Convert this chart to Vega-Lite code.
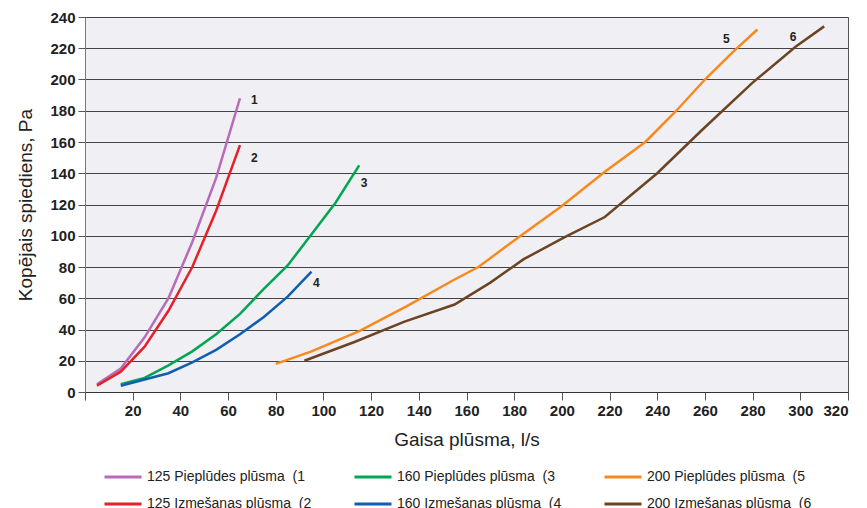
{
  "$schema": "https://vega.github.io/schema/vega-lite/v6.json",
  "width": 763,
  "height": 375,
  "autosize": {"type": "none"},
  "padding": {"left": 85, "top": 17, "right": 19, "bottom": 116},
  "background": "white",
  "config": {
    "view": {"fill": "#f0eff3", "stroke": "#555", "strokeWidth": 1},
    "font": "Liberation Sans"
  },
  "datasets": {
    "curves": [
      {"series": "125 Pieplūdes plūsma  (1", "x": 5, "y": 5},
      {"series": "125 Pieplūdes plūsma  (1", "x": 15, "y": 15},
      {"series": "125 Pieplūdes plūsma  (1", "x": 25, "y": 35},
      {"series": "125 Pieplūdes plūsma  (1", "x": 35, "y": 60},
      {"series": "125 Pieplūdes plūsma  (1", "x": 45, "y": 96},
      {"series": "125 Pieplūdes plūsma  (1", "x": 55, "y": 137},
      {"series": "125 Pieplūdes plūsma  (1", "x": 65, "y": 188},
      {"series": "125 Izmešanas plūsma  (2", "x": 5, "y": 4},
      {"series": "125 Izmešanas plūsma  (2", "x": 15, "y": 13},
      {"series": "125 Izmešanas plūsma  (2", "x": 25, "y": 29},
      {"series": "125 Izmešanas plūsma  (2", "x": 35, "y": 52},
      {"series": "125 Izmešanas plūsma  (2", "x": 45, "y": 80},
      {"series": "125 Izmešanas plūsma  (2", "x": 55, "y": 116},
      {"series": "125 Izmešanas plūsma  (2", "x": 65, "y": 158},
      {"series": "160 Pieplūdes plūsma  (3", "x": 15, "y": 5},
      {"series": "160 Pieplūdes plūsma  (3", "x": 25, "y": 9},
      {"series": "160 Pieplūdes plūsma  (3", "x": 35, "y": 17},
      {"series": "160 Pieplūdes plūsma  (3", "x": 45, "y": 26},
      {"series": "160 Pieplūdes plūsma  (3", "x": 55, "y": 37},
      {"series": "160 Pieplūdes plūsma  (3", "x": 65, "y": 50},
      {"series": "160 Pieplūdes plūsma  (3", "x": 75, "y": 66},
      {"series": "160 Pieplūdes plūsma  (3", "x": 85, "y": 81},
      {"series": "160 Pieplūdes plūsma  (3", "x": 95, "y": 101},
      {"series": "160 Pieplūdes plūsma  (3", "x": 105, "y": 121},
      {"series": "160 Pieplūdes plūsma  (3", "x": 115, "y": 145},
      {"series": "160 Izmešanas plūsma  (4", "x": 15, "y": 4},
      {"series": "160 Izmešanas plūsma  (4", "x": 25, "y": 8},
      {"series": "160 Izmešanas plūsma  (4", "x": 35, "y": 12},
      {"series": "160 Izmešanas plūsma  (4", "x": 45, "y": 19},
      {"series": "160 Izmešanas plūsma  (4", "x": 55, "y": 27},
      {"series": "160 Izmešanas plūsma  (4", "x": 65, "y": 37},
      {"series": "160 Izmešanas plūsma  (4", "x": 75, "y": 48},
      {"series": "160 Izmešanas plūsma  (4", "x": 85, "y": 61},
      {"series": "160 Izmešanas plūsma  (4", "x": 95, "y": 77},
      {"series": "200 Pieplūdes plūsma  (5", "x": 80, "y": 18},
      {"series": "200 Pieplūdes plūsma  (5", "x": 95, "y": 26},
      {"series": "200 Pieplūdes plūsma  (5", "x": 115, "y": 39},
      {"series": "200 Pieplūdes plūsma  (5", "x": 135, "y": 55},
      {"series": "200 Pieplūdes plūsma  (5", "x": 155, "y": 72},
      {"series": "200 Pieplūdes plūsma  (5", "x": 165, "y": 80},
      {"series": "200 Pieplūdes plūsma  (5", "x": 180, "y": 97},
      {"series": "200 Pieplūdes plūsma  (5", "x": 200, "y": 119},
      {"series": "200 Pieplūdes plūsma  (5", "x": 218, "y": 141},
      {"series": "200 Pieplūdes plūsma  (5", "x": 235, "y": 160},
      {"series": "200 Pieplūdes plūsma  (5", "x": 248, "y": 180},
      {"series": "200 Pieplūdes plūsma  (5", "x": 260, "y": 200},
      {"series": "200 Pieplūdes plūsma  (5", "x": 272, "y": 218},
      {"series": "200 Pieplūdes plūsma  (5", "x": 282, "y": 232},
      {"series": "200 Izmešanas plūsma  (6", "x": 92, "y": 20},
      {"series": "200 Izmešanas plūsma  (6", "x": 113, "y": 32},
      {"series": "200 Izmešanas plūsma  (6", "x": 134, "y": 45},
      {"series": "200 Izmešanas plūsma  (6", "x": 155, "y": 56},
      {"series": "200 Izmešanas plūsma  (6", "x": 170, "y": 70},
      {"series": "200 Izmešanas plūsma  (6", "x": 184, "y": 85},
      {"series": "200 Izmešanas plūsma  (6", "x": 201, "y": 99},
      {"series": "200 Izmešanas plūsma  (6", "x": 218, "y": 112},
      {"series": "200 Izmešanas plūsma  (6", "x": 240, "y": 140},
      {"series": "200 Izmešanas plūsma  (6", "x": 259, "y": 168},
      {"series": "200 Izmešanas plūsma  (6", "x": 280, "y": 198},
      {"series": "200 Izmešanas plūsma  (6", "x": 298, "y": 221},
      {"series": "200 Izmešanas plūsma  (6", "x": 310, "y": 234}
    ],
    "labels": [
      {"label": "1", "x": 71, "y": 187},
      {"label": "2", "x": 71, "y": 150},
      {"label": "3", "x": 117, "y": 134},
      {"label": "4", "x": 97, "y": 70},
      {"label": "5", "x": 269, "y": 226},
      {"label": "6", "x": 297, "y": 227}
    ]
  },
  "encoding": {
    "x": {
      "field": "x", "type": "quantitative",
      "scale": {"domain": [0, 320], "nice": false},
      "axis": {
        "values": [0, 20, 40, 60, 80, 100, 120, 140, 160, 180, 200, 220, 240, 260, 280, 300, 320],
        "labelExpr": "datum.value == 0 ? '' : datum.label",
        "labelOverlap": false,
        "grid": false,
        "domainColor": "#333", "tickColor": "#555", "tickSize": 8,
        "labelFont": "Liberation Sans", "labelFontWeight": "bold", "labelFontSize": 15, "labelColor": "#222",
        "labelPadding": 3,
        "title": "Gaisa plūsma, l/s", "titleFont": "Liberation Sans", "titleFontSize": 19, "titleFontWeight": "normal", "titleColor": "#222",
        "titlePadding": 12
      }
    },
    "y": {
      "field": "y", "type": "quantitative",
      "scale": {"domain": [0, 240], "nice": false},
      "axis": {
        "values": [0, 20, 40, 60, 80, 100, 120, 140, 160, 180, 200, 220, 240],
        "labelOverlap": false,
        "grid": true, "gridColor": "#444", "gridWidth": 1,
        "domainColor": "#777", "tickColor": "#555", "tickSize": 7,
        "labelFont": "Liberation Sans", "labelFontWeight": "bold", "labelFontSize": 15, "labelColor": "#222",
        "labelPadding": 3,
        "title": "Kopējais spiediens, Pa", "titleFont": "Liberation Sans", "titleFontSize": 19, "titleFontWeight": "normal", "titleColor": "#222",
        "titlePadding": 14
      }
    }
  },
  "layer": [
    {
      "data": {"name": "curves"},
      "mark": {"type": "line", "strokeWidth": 2.5},
      "encoding": {
        "color": {
          "field": "series", "type": "nominal",
          "scale": {
            "domain": ["125 Pieplūdes plūsma  (1", "125 Izmešanas plūsma  (2", "160 Pieplūdes plūsma  (3", "160 Izmešanas plūsma  (4", "200 Pieplūdes plūsma  (5", "200 Izmešanas plūsma  (6"],
            "range": ["#b86bb8", "#e4202a", "#00a651", "#0f5fb0", "#f7891f", "#6b4423"]
          },
          "legend": {
            "orient": "none", "legendX": 18, "legendY": 440,
            "title": null, "columns": 3, "columnPadding": 36, "rowPadding": 0,
            "symbolType": "stroke", "symbolSize": 1369, "symbolStrokeWidth": 3,
            "labelExpr": "replace(datum.label, '  (', '\u00a0\u00a0(')",
            "labelFont": "Liberation Sans", "labelFontSize": 14, "labelColor": "#222", "labelOffset": 4, "labelLimit": 300
          }
        }
      }
    },
    {
      "data": {"name": "labels"},
      "mark": {"type": "text", "fontWeight": "bold", "fontSize": 12, "color": "#222"},
      "encoding": {
        "text": {"field": "label"}
      }
    }
  ]
}
